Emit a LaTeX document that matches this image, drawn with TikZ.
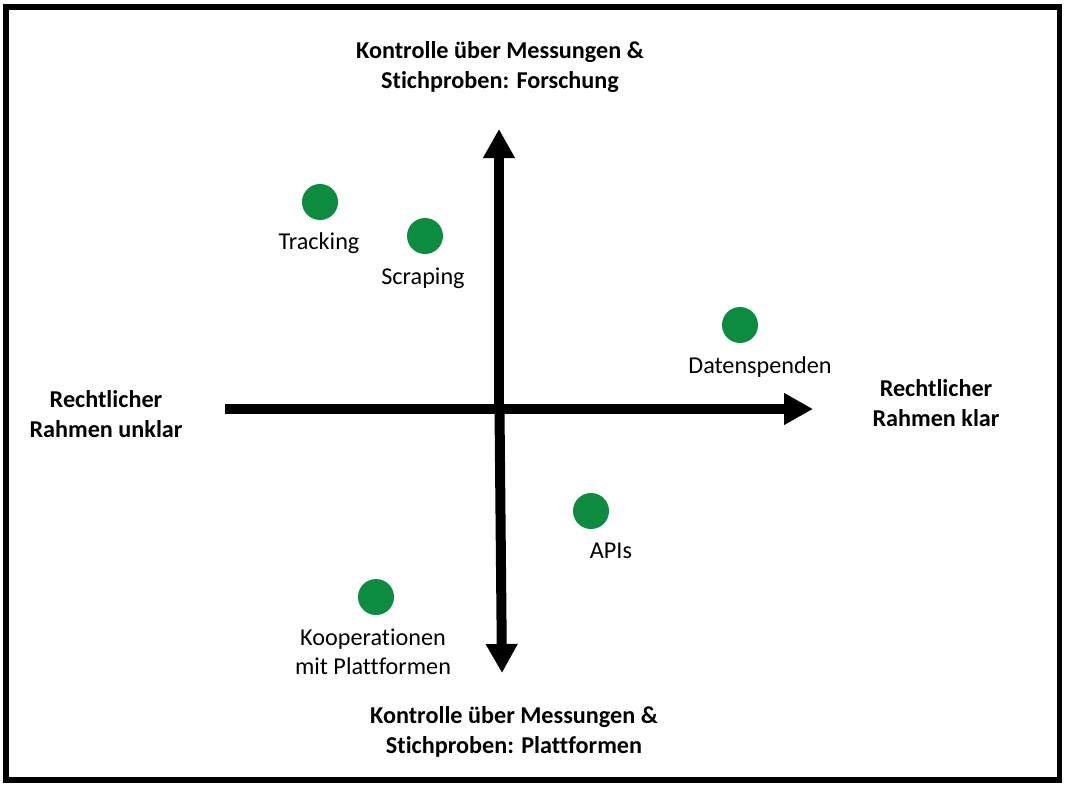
\documentclass[tikz,border=0pt]{standalone}
\usepackage{fontspec}
\setmainfont{Carlito}[Ligatures=NoCommon]
\usetikzlibrary{arrows.meta}
\definecolor{dotgreen}{RGB}{12,140,62}
\tikzset{
  axis/.style={line width=10pt, -{Triangle[width=30pt,length=29pt]}},
  dot/.style={circle, fill=dotgreen, minimum size=36pt, inner sep=0pt},
  lbl/.style={font=\fontsize{24.2}{29}\selectfont, align=center, inner sep=0pt},
  axlbl/.style={font=\fontsize{24.2}{30}\selectfont\bfseries, align=center, inner sep=0pt}
}
\begin{document}
\begin{tikzpicture}[x=1pt,y=-1pt]
\useasboundingbox (0,0) rectangle (1066,787);
\fill[white] (0,0) rectangle (1066,787);
\draw[line width=5.5pt] (6,7) rectangle (1059.5,780);
% axes
\coordinate (c) at (499,409);
\coordinate (cd) at (499.5,409);
\coordinate (left) at (225,409);
\coordinate (right) at (813,409);
\coordinate (top) at (499,129);
\coordinate (bottom) at (502,673);
\draw[axis] (left) -- (right);
\draw[axis] (c) -- (top);
\draw[axis] (cd) -- (bottom);
% axis labels
\node[axlbl] (ltop) at (500,67) {Kontrolle über Messungen \&\\Stichproben: Forschung};
\node[axlbl] (lbot) at (514,732) {Kontrolle über Messungen \&\\Stichproben: Plattformen};
\node[axlbl] (lleft) at (106,414) {Rechtlicher\\Rahmen unklar};
\node[axlbl] (lright) at (936,403) {Rechtlicher\\Rahmen klar};
% dots
\node[dot] (d1) at (320,202) {};
\node[dot] (d2) at (425,236) {};
\node[dot] (d3) at (740,325) {};
\node[dot] (d4) at (591,511) {};
\node[dot] (d5) at (376,597) {};
\node[lbl] (t1) at (319,243) {Tracking};
\node[lbl] (t2) at (423,278) {Scraping};
\node[lbl] (t3) at (760,367) {Datenspenden};
\node[lbl] (t4) at (611,551) {APIs};
\node[lbl] (t5) at (373,652) {Kooperationen\\mit Plattformen};
\end{tikzpicture}
\end{document}
